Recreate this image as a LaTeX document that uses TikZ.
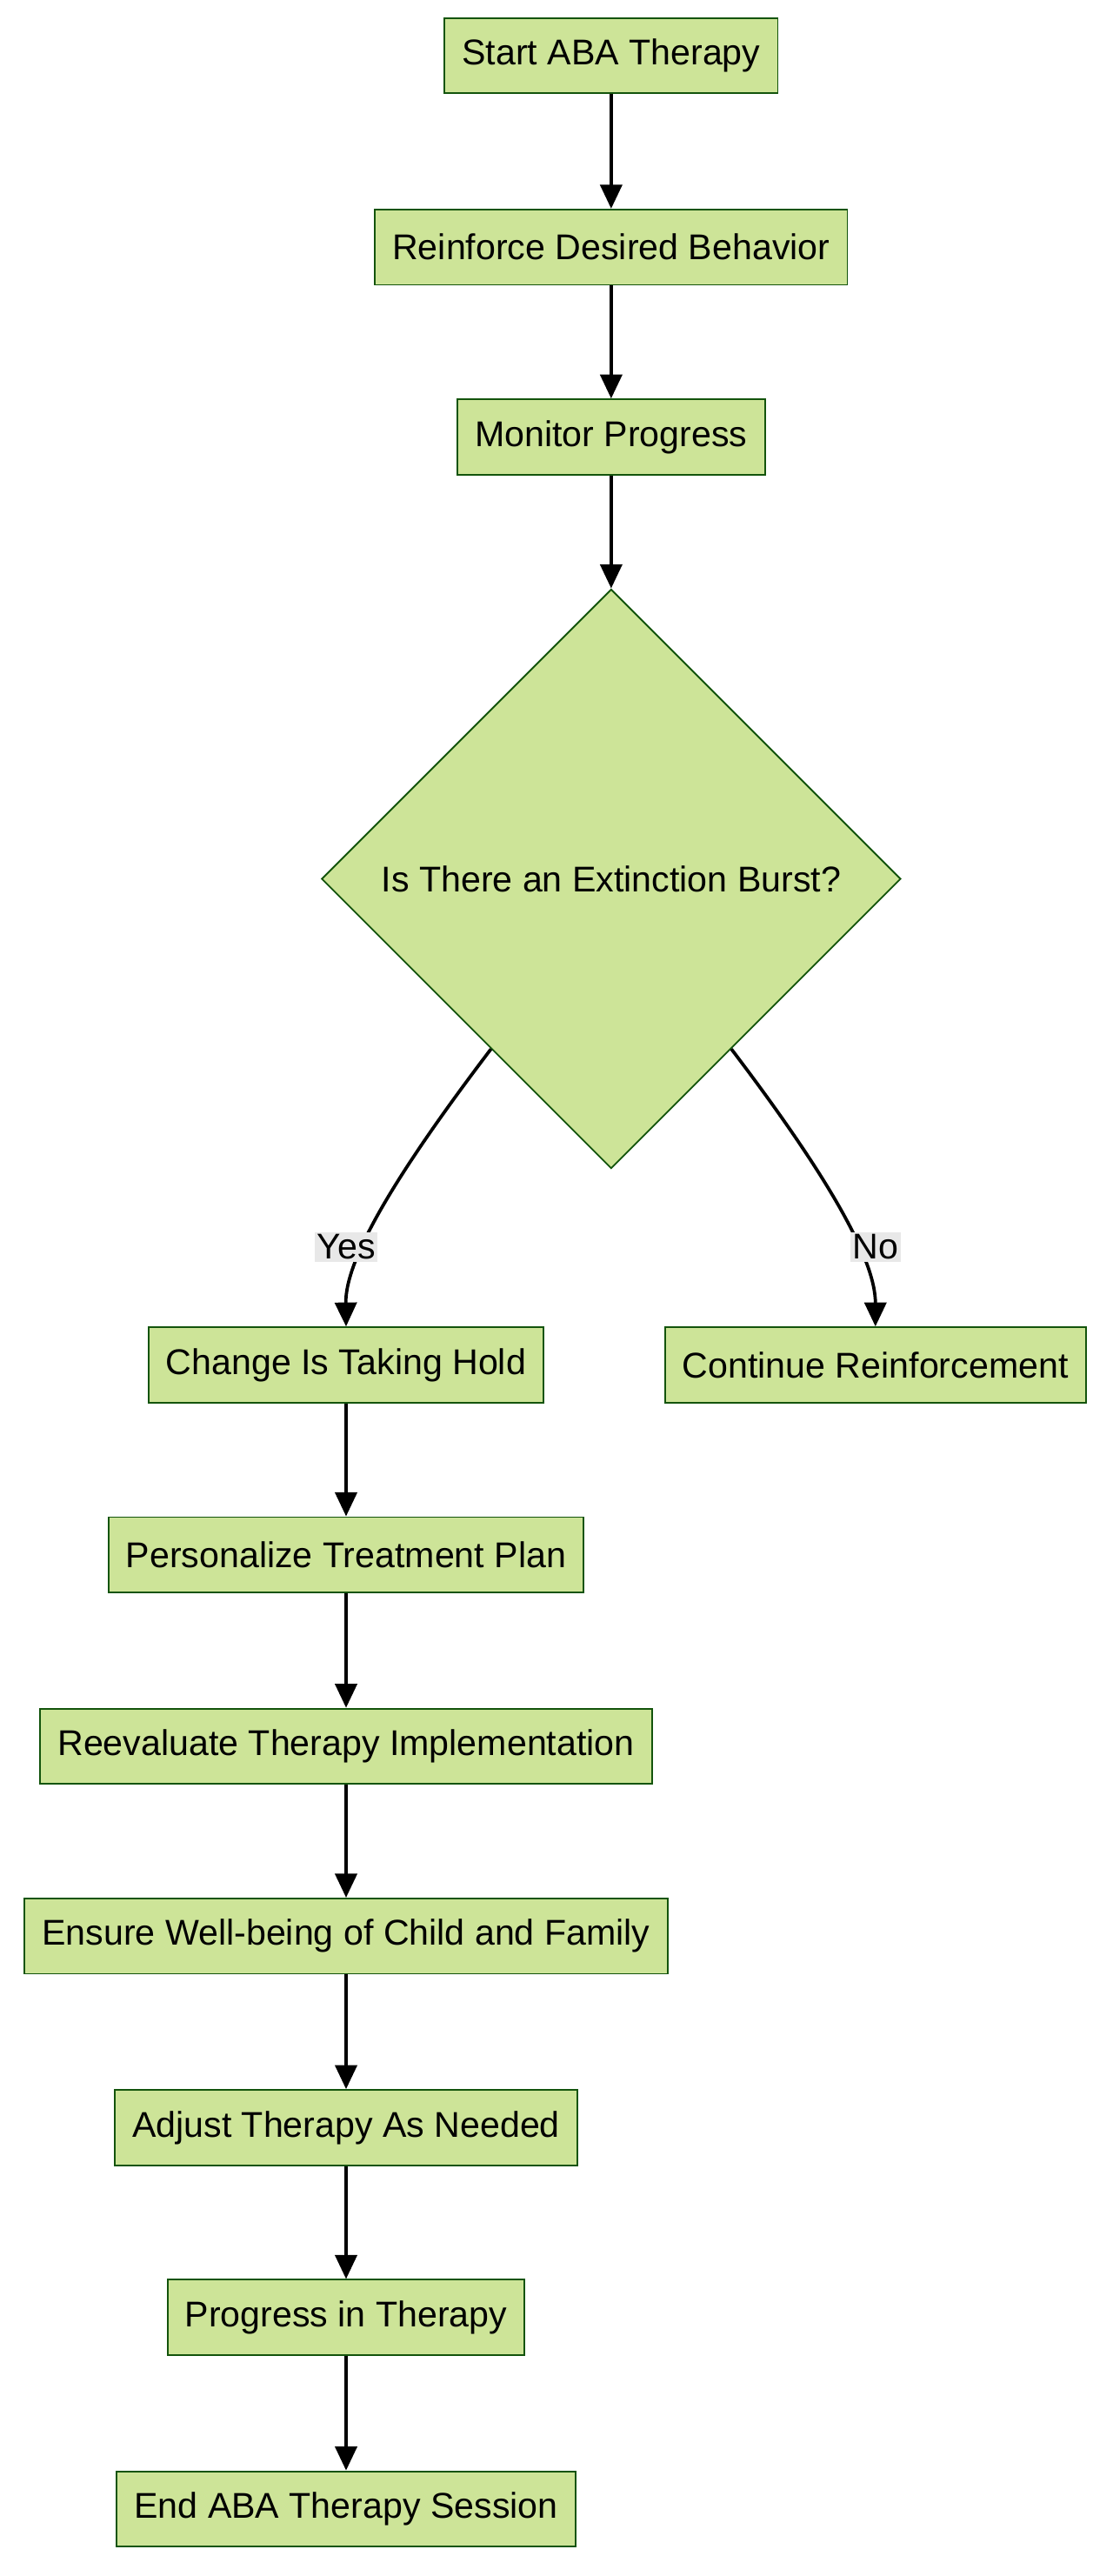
\documentclass[tikz,border=0pt]{standalone}
\usepackage{fontspec}
\setmainfont{Liberation Sans}
\usetikzlibrary{shapes.geometric,arrows.meta,calc}
\definecolor{boxfill}{HTML}{CDE498}
\definecolor{boxline}{HTML}{13540C}
\definecolor{lblfill}{HTML}{E8E8E8}
\begin{document}
\begin{tikzpicture}[
    x=0.75pt, y=-0.75pt,
    every node/.style={font=\fontsize{16.4}{19}\selectfont},
    paso/.style={draw=boxline, fill=boxfill, line width=0.75pt, minimum height=34.5pt, inner xsep=8pt},
    eleccion/.style={diamond, draw=boxline, fill=boxfill, line width=0.75pt, minimum width=265.5pt, minimum height=265.5pt, inner sep=0pt},
    etiqueta/.style={fill=lblfill, inner sep=1pt},
    enlace/.style={-{Triangle[length=11pt,width=10pt]}, line width=1.5pt}
]
\useasboundingbox (0,0) rectangle (680,1574);
% Main line
\node[paso] (start) at (373.5,34) {Start ABA Therapy};
\node[paso] (reinforce) at (373.5,151) {Reinforce Desired Behavior};
\node[paso] (monitor) at (373.5,267) {Monitor Progress};
\node[eleccion] (burst) at (373.5,537) {Is There an Extinction Burst?};
% Branches
\node[paso] (change) at (211.5,834) {Change Is Taking Hold};
\node[paso] (continue) at (535,834) {Continue Reinforcement};
\node[paso] (personalize) at (211.5,950) {Personalize Treatment Plan};
\node[paso] (reevaluate) at (211.5,1067) {Reevaluate Therapy Implementation};
\node[paso] (ensure) at (211.5,1183) {Ensure Well-being of Child and Family};
\node[paso] (adjust) at (211.5,1300) {Adjust Therapy As Needed};
\node[paso] (progress) at (211.5,1416) {Progress in Therapy};
\node[paso] (finish) at (211.5,1533) {End ABA Therapy Session};
% Aristas
\draw[enlace] (start) -- (reinforce);
\draw[enlace] (reinforce) -- (monitor);
\draw[enlace] (monitor) -- (burst);
\coordinate (yesout) at ($(burst.west)!0.586!(burst.south)$);
\coordinate (noout) at ($(burst.east)!0.586!(burst.south)$);
\draw[enlace] (yesout) .. controls (240,720) and (211,770) .. (change.north);
\draw[enlace] (noout) .. controls (507,720) and (535,770) .. (continue.north);
\node[etiqueta] (yes) at (211.5,762) {Yes};
\node[etiqueta] (no) at (535,762) {No};
\draw[enlace] (change) -- (personalize);
\draw[enlace] (personalize) -- (reevaluate);
\draw[enlace] (reevaluate) -- (ensure);
\draw[enlace] (ensure) -- (adjust);
\draw[enlace] (adjust) -- (progress);
\draw[enlace] (progress) -- (finish);
\end{tikzpicture}
\end{document}
